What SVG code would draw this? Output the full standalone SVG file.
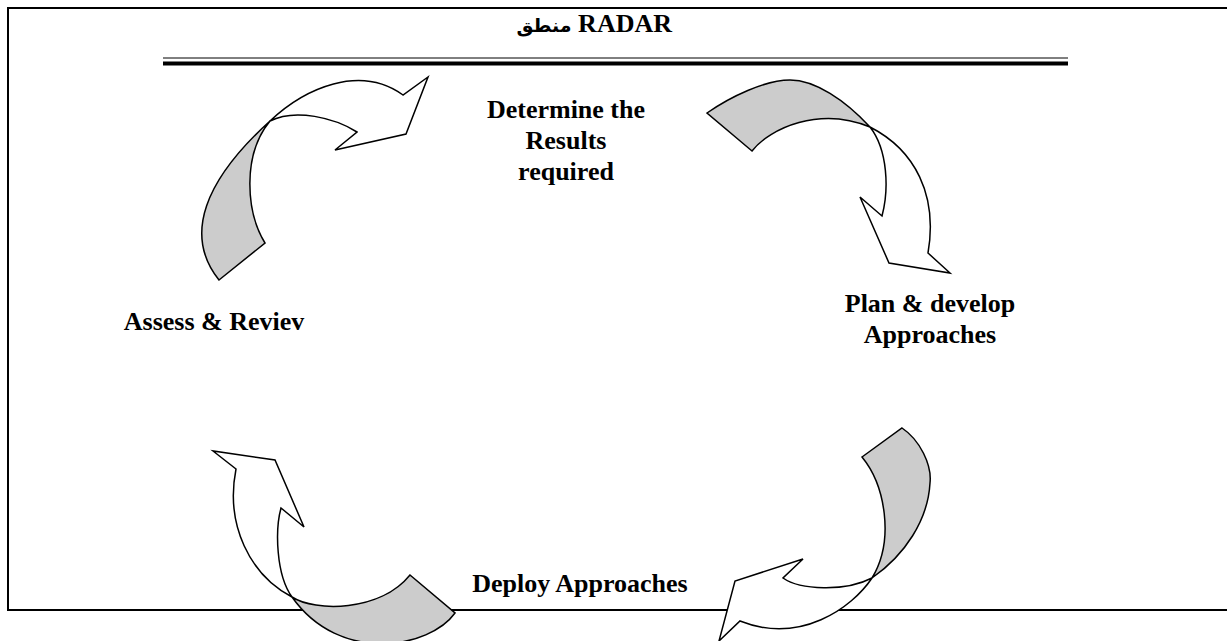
<svg xmlns="http://www.w3.org/2000/svg" width="1227" height="641" viewBox="0 0 1227 641">
<style>
.frame{fill:none;stroke:#000;stroke-width:2}
.gray{fill:#cccccc;stroke:#000;stroke-width:1.5;stroke-linejoin:miter}
.white{fill:#ffffff;stroke:#000;stroke-width:1.5;stroke-linejoin:miter}
.lbl{font-family:"Liberation Serif","DejaVu Serif",serif;font-weight:bold;font-size:26px;fill:#000;text-anchor:middle}
.title{font-family:"Liberation Serif","DejaVu Sans",serif;font-weight:bold;font-size:26px;fill:#000;text-anchor:end}
.ar{font-family:"DejaVu Sans",sans-serif;font-size:19px}
</style>
<rect x="0" y="0" width="1227" height="641" fill="#fff"/>
<g id="frame">
<polyline class="frame" points="1227,8 8,8 8,610 1227,610"/>
<line x1="163" y1="58" x2="1068" y2="58" stroke="#000" stroke-width="1"/>
<line x1="163" y1="63.5" x2="1068" y2="63.5" stroke="#000" stroke-width="4"/>
</g>
<g id="title">
<text class="title" x="672" y="32"><tspan class="ar">منطق</tspan> RADAR</text>
</g>
<g id="connectors">
<g id="arrow-top-left">
<path class="gray" d="M219,280 L265,243 C246,212 242,155 270,121 C205,180 183,235 219,280 Z"/>
<path class="white" d="M270,121 C305,88 360,64 403,95 L428,77 L406,134 L335,150 L357,132 C335,118 295,108 270,121 Z"/>
</g>
<g id="arrow-top-right">
<path class="gray" d="M707,113 C730,97 765,80 790,80 C815,80 845,100 870,127 C820,106 770,128 752,151 Z"/>
<path class="white" d="M870,127 C915,150 938,195 928,253 L950,273 L889,263 L860,197 L882,216 C889,190 888,150 870,127 Z"/>
</g>
<g id="arrow-bottom-right">
<path class="gray" d="M862,457 L902,428 C920,440 932,465 930,483 C928,520 905,555 872,578 C895,540 885,485 862,457 Z"/>
<path class="white" d="M872,578 C852,608 800,645 740,621 L719,641 L735,581 L803,559 L783,578 C800,590 845,592 872,578 Z"/>
</g>
<g id="arrow-bottom-left">
<path class="gray" d="M410,575 L455,613 C430,648 340,665 292,597 C315,612 380,612 410,575 Z"/>
<path class="white" d="M292,597 C250,575 225,525 236,469 L213,451 L275,460 L304,527 L281,508 C275,530 276,575 292,597 Z"/>
</g>
</g>
<g id="node-results">
<text class="lbl" x="566" y="118">Determine the</text>
<text class="lbl" x="566" y="149">Results</text>
<text class="lbl" x="566" y="180">required</text>
</g>
<g id="node-plan">
<text class="lbl" x="930" y="312">Plan &amp; develop</text>
<text class="lbl" x="930" y="343">Approaches</text>
</g>
<g id="node-deploy">
<text class="lbl" x="580" y="592">Deploy Approaches</text>
</g>
<g id="node-assess">
<text class="lbl" x="214" y="330">Assess &amp; Reviev</text>
</g>
</svg>
